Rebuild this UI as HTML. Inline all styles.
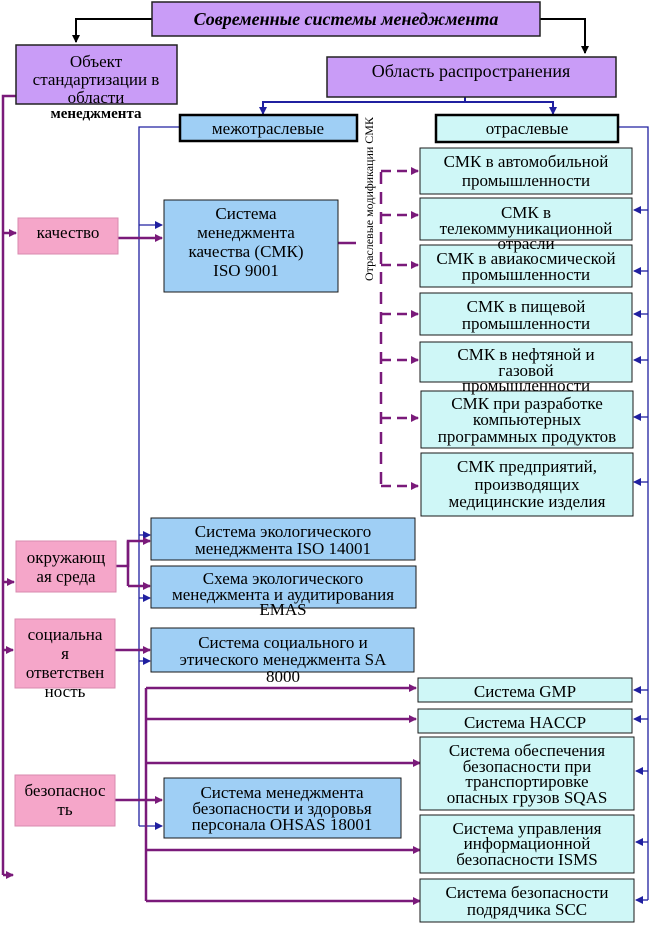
<!DOCTYPE html>
<html><head><meta charset="utf-8"><style>
html,body{margin:0;padding:0;background:#fff;}
svg{display:block;}
text{font-family:"Liberation Serif","DejaVu Serif",serif;font-size:17px;fill:#000;text-anchor:middle;}
.b{stroke:#1a1a1a;stroke-width:1;}
</style></head><body>
<svg width="651" height="927" viewBox="0 0 651 927" xmlns="http://www.w3.org/2000/svg">
<defs>
<marker id="ak" markerWidth="8" markerHeight="8" refX="7" refY="4" orient="auto" markerUnits="userSpaceOnUse"><path d="M0,0L8,4L0,8z" fill="#000"/></marker>
<marker id="ab" markerWidth="8" markerHeight="8" refX="7" refY="4" orient="auto" markerUnits="userSpaceOnUse"><path d="M0,0L8,4L0,8z" fill="#2020a0"/></marker>
<marker id="ap" markerWidth="8" markerHeight="8" refX="7" refY="4" orient="auto" markerUnits="userSpaceOnUse"><path d="M0,0L8,4L0,8z" fill="#7a1a7a"/></marker>
</defs>

<path d="M152,19H76V42" fill="none" stroke="#000" stroke-width="2" marker-end="url(#ak)"/>
<path d="M540,19H585V53" fill="none" stroke="#000" stroke-width="2" marker-end="url(#ak)"/>

<path d="M465,97V102H263V114" fill="none" stroke="#2020a0" stroke-width="2" marker-end="url(#ab)"/>
<path d="M465,102H553V114" fill="none" stroke="#2020a0" stroke-width="2" marker-end="url(#ab)"/>
<path d="M180,127H139V826" fill="none" stroke="#2020a0" stroke-width="1.3"/>
<path d="M618,127H648V900" fill="none" stroke="#2020a0" stroke-width="1.3"/>
<g stroke="#2020a0" stroke-width="1.3" fill="none" marker-end="url(#ab)">
<path d="M139,225H162"/>
<path d="M139,535H150"/><path d="M139,598H150"/><path d="M139,661H150"/><path d="M139,826H162"/>
<path d="M648,210H634"/><path d="M648,271H634"/><path d="M648,314H634"/><path d="M648,360H634"/><path d="M648,417H634"/><path d="M648,482H634"/>
<path d="M648,690H634"/><path d="M648,719H634"/><path d="M648,771H636"/><path d="M648,842H636"/><path d="M648,900H636"/>
</g>

<g stroke="#7a1a7a" stroke-width="2.5" fill="none">
<path d="M16,96H3V875"/>
<path d="M128,566V541M128,566V586"/>
<path d="M146,688V901"/>
<path d="M338,243H356"/>
</g>
<g stroke="#7a1a7a" stroke-width="2.5" fill="none" marker-end="url(#ap)">
<path d="M3,233H16"/><path d="M3,582H14"/><path d="M3,650H13"/><path d="M3,875H13"/>
<path d="M118,238H162"/>
<path d="M116,566H128V541H150"/><path d="M128,586H150"/>
<path d="M115,650H150"/>
<path d="M115,800H162"/>
<path d="M146,688H416"/><path d="M146,719H416"/><path d="M146,763H420"/><path d="M146,850H420"/><path d="M146,901H420"/>
</g>
<path d="M381,172V486" stroke="#7a1a7a" stroke-width="2.5" stroke-dasharray="12,8" fill="none"/>
<g stroke="#7a1a7a" stroke-width="2.5" fill="none" stroke-dasharray="10,6" marker-end="url(#ap)">
<path d="M381,171H418"/><path d="M381,215H418"/><path d="M381,265H418"/><path d="M381,314H418"/><path d="M381,360H418"/><path d="M381,418H418"/><path d="M381,486H418"/>
</g>

<rect x="152" y="2" width="388" height="34" fill="#c99cf7" stroke="#222" stroke-width="1.5"/>
<text x="346" y="25" style="font-weight:bold;font-style:italic;font-size:18px">Современные системы менеджмента</text>

<rect x="16" y="45" width="161" height="59" fill="#c99cf7" stroke="#222" stroke-width="1.5"/>
<text x="96" y="67">Объект</text><text x="96" y="85">стандартизации в</text><text x="96" y="103">области</text>
<text x="96" y="118" style="font-weight:bold;font-size:15px">менеджмента</text>

<rect x="327" y="57" width="289" height="40" fill="#c99cf7" stroke="#222" stroke-width="1.5"/>
<text x="471" y="77" style="font-size:18px">Область распространения</text>

<rect x="180" y="115" width="177" height="26" fill="#9fcff5" stroke="#000" stroke-width="2.5"/>
<text x="268" y="134">межотраслевые</text>
<rect x="436" y="115" width="182" height="27" fill="#cff7f7" stroke="#000" stroke-width="2.5"/>
<text x="527" y="134">отраслевые</text>

<text transform="translate(373,199) rotate(-90)" style="font-size:12px">Отраслевые модификации СМК</text>

<g fill="#f5a6c9" stroke="#d88aae">
<rect x="18" y="218" width="100" height="36"/>
<rect x="16" y="541" width="100" height="51"/>
<rect x="15" y="619" width="100" height="69"/>
<rect x="15" y="775" width="100" height="51"/>
</g>
<text x="68" y="238">качество</text>
<text x="66" y="563">окружающ</text><text x="66" y="582">ая среда</text>
<text x="65" y="640">социальна</text><text x="65" y="659">я</text><text x="65" y="678">ответствен</text><text x="65" y="697">ность</text>
<text x="65" y="796">безопаснос</text><text x="65" y="815">ть</text>

<g fill="#9fcff5" class="b">
<rect x="164" y="200" width="174" height="92"/>
<rect x="151" y="518" width="264" height="42"/>
<rect x="151" y="566" width="265" height="42"/>
<rect x="151" y="628" width="263" height="44"/>
<rect x="164" y="778" width="237" height="60"/>
</g>
<text x="246" y="219">Система</text><text x="246" y="238">менеджмента</text><text x="246" y="257">качества (СМК)</text><text x="246" y="276">ISO 9001</text>
<text x="283" y="537">Система экологического</text><text x="283" y="554">менеджмента ISO 14001</text>
<text x="283" y="584">Схема экологического</text><text x="283" y="600">менеджмента и аудитирования</text><text x="283" y="615">EMAS</text>
<text x="283" y="648">Система социального и</text><text x="283" y="665">этического менеджмента SA</text><text x="283" y="682">8000</text>
<text x="282" y="798">Система менеджмента</text><text x="282" y="814">безопасности и здоровья</text><text x="282" y="830">персонала OHSAS 18001</text>

<g fill="#cff7f7" class="b">
<rect x="420" y="148" width="212" height="46"/>
<rect x="420" y="198" width="212" height="42"/>
<rect x="420" y="245" width="212" height="42"/>
<rect x="420" y="293" width="212" height="42"/>
<rect x="420" y="342" width="212" height="40"/>
<rect x="421" y="391" width="212" height="57"/>
<rect x="421" y="453" width="212" height="63"/>
<rect x="418" y="678" width="214" height="24"/>
<rect x="418" y="709" width="214" height="24"/>
<rect x="420" y="737" width="214" height="73"/>
<rect x="420" y="815" width="214" height="58"/>
<rect x="420" y="879" width="214" height="43"/>
</g>
<text x="526" y="167">СМК в автомобильной</text><text x="526" y="186">промышленности</text>
<text x="526" y="218">СМК в</text><text x="526" y="234">телекоммуникационной</text><text x="526" y="249">отрасли</text>
<text x="526" y="264">СМК в авиакосмической</text><text x="526" y="280">промышленности</text>
<text x="526" y="312">СМК в пищевой</text><text x="526" y="329">промышленности</text>
<text x="526" y="360">СМК в нефтяной и</text><text x="526" y="376">газовой</text><text x="526" y="391">промышленности</text>
<text x="527" y="409">СМК при разработке</text><text x="527" y="425">компьютерных</text><text x="527" y="442">программных продуктов</text>
<text x="527" y="472">СМК предприятий,</text><text x="527" y="490">производящих</text><text x="527" y="507">медицинские изделия</text>
<text x="525" y="697">Система GMP</text>
<text x="525" y="728">Система  HACCP</text>
<text x="527" y="756">Система обеспечения</text><text x="527" y="772">безопасности при</text><text x="527" y="787">транспортировке</text><text x="527" y="803">опасных грузов SQAS</text>
<text x="527" y="834">Система управления</text><text x="527" y="849">информационной</text><text x="527" y="865">безопасности ISMS</text>
<text x="527" y="898">Система безопасности</text><text x="527" y="915">подрядчика  SCC</text>
</svg>
</body></html>
